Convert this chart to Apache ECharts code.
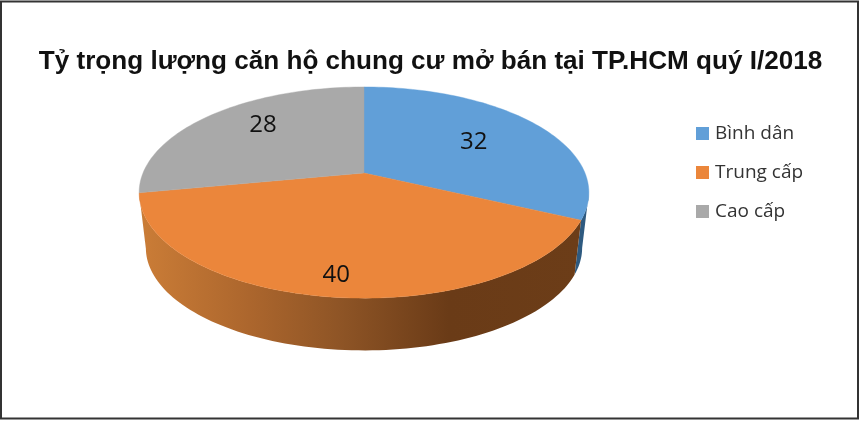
<!DOCTYPE html>
<html>
<head>
<meta charset="utf-8">
<style>html,body{margin:0;padding:0;background:#fff}#c{width:860px;height:421px}</style>
<script src="https://cdn.jsdelivr.net/npm/echarts@6/dist/echarts.min.js"></script>
</head>
<body>
<div id="c"></div>
<script>
var chartTitle = 'Tỷ trọng lượng căn hộ chung cư mở bán tại TP.HCM quý I/2018';
var categories = ['Bình dân', 'Trung cấp', 'Cao cấp'];
var values = [32, 40, 28];

var topColors = ['#619FD8', '#EB863B', '#A9A9A9'];
var sideColors = ['#2E5A80', null, '#5E5E5E'];
var labelRadius = [0.624, 0.844, 0.728];
var labelTurn = [0, 0, 6.8];

var cx = 364, cy = 173, Rx = 221, Ry = 102, persp = 0.185, shrink = 0.97, depth = 56;
var total = values.reduce(function (a, b) { return a + b; }, 0);
var RAD = Math.PI / 180;

function project(deg, r, lvl) {
  var u = Math.sin(deg * RAD) * r, v = -Math.cos(deg * RAD) * r, w = 1 - persp * v;
  var s = lvl ? shrink : 1;
  return [cx + s * Rx * u / w, cy + s * Ry * v / w + (lvl ? depth : 0)];
}
function arc(a, b, lvl) {
  var pts = [], n = Math.max(2, Math.ceil(Math.abs(b - a) / 1.5));
  for (var i = 0; i <= n; i++) pts.push(project(a + (b - a) * i / n, 1, lvl));
  return pts;
}
var visFrom = Math.acos(-persp) / RAD, visTo = 360 - visFrom;

function sliceRenderer(idx) {
  return function (params, api) {
    var before = 0;
    for (var i = 0; i < idx; i++) before += values[i];
    var val = api.value(0);
    var a = before / total * 360, b = (before + val) / total * 360;
    var kids = [];
    var sa = Math.max(a, visFrom), sb = Math.min(b, visTo);
    if (sb > sa) {
      var pts = arc(sa, sb, 0).concat(arc(sb, sa, 1));
      var fill = sideColors[idx] || new echarts.graphic.LinearGradient(0, 0, 1, 0, [
        { offset: 0, color: '#CB7D37' },
        { offset: 0.25, color: '#AC662D' },
        { offset: 0.45, color: '#8F5526' },
        { offset: 0.70, color: '#6A3B17' },
        { offset: 1, color: '#6C3D18' }
      ]);
      kids.push({ type: 'polygon', shape: { points: pts }, style: { fill: fill } });
    }
    var face = [[cx, cy]].concat(arc(a, b, 0));
    kids.push({
      type: 'polygon', shape: { points: face },
      style: { fill: topColors[idx], stroke: topColors[idx], lineWidth: 0.4 }
    });
    var lp = project((a + b) / 2 + labelTurn[idx], labelRadius[idx], 0);
    kids.push({
      type: 'text', z2: 10,
      style: {
        text: String(val), x: lp[0], y: lp[1] + 1.5, fill: '#111',
        font: '24px "Open Sans"', align: 'center', verticalAlign: 'middle'
      }
    });
    return { type: 'group', children: kids };
  };
}

var chart = echarts.init(document.getElementById('c'), null, { renderer: 'canvas' });
chart.setOption({
  animation: false,
  backgroundColor: '#fff',
  title: {
    text: chartTitle, left: 425.5, top: 57, textAlign: 'center', textVerticalAlign: 'middle',
    textStyle: { fontFamily: '"Liberation Sans"', fontWeight: 'bold', fontSize: 26.1, color: '#111' }
  },
  legend: {
    orient: 'vertical', left: 691, top: 119, icon: 'rect',
    itemWidth: 13, itemHeight: 13, itemGap: 20,
    data: categories,
    textStyle: { fontFamily: '"Open Sans"', fontSize: 19, color: '#333', padding: [0, 0, 0, 1] }
  },
  graphic: [{
    type: 'rect', silent: true, z: 100,
    shape: { x: 1, y: 1.5, width: 857, height: 417 },
    style: { fill: 'none', stroke: '#333', lineWidth: 2 }
  }],
  series: categories.map(function (name, i) {
    return {
      type: 'custom', name: name, coordinateSystem: 'none',
      itemStyle: { color: topColors[i] },
      renderItem: sliceRenderer(i),
      data: [values[i]]
    };
  })
});
</script>
</body>
</html>
